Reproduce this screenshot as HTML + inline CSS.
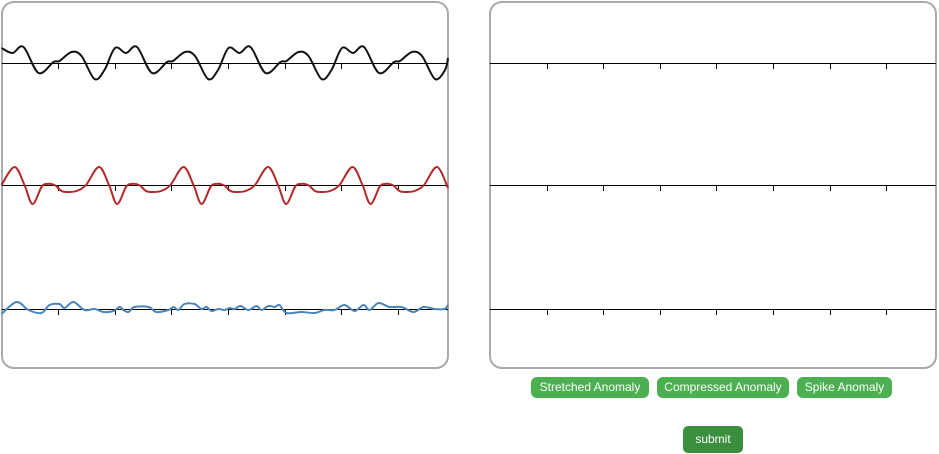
<!DOCTYPE html>
<html><head><meta charset="utf-8"><style>
body{margin:0;width:939px;height:454px;background:#fff;font-family:"Liberation Sans",sans-serif;position:relative;overflow:hidden}
.panel{position:absolute;top:1px;width:444px;height:364px;border:2px solid #aaa;border-radius:13px;background:#fff}
.btn{position:absolute;top:377px;height:21px;background:#4caf50;color:#fff;border-radius:6px;font-size:12px;line-height:21px;text-align:center}
#submit{position:absolute;left:683px;top:426px;width:60px;height:27px;background:#3a8f3e;color:#fff;border-radius:5px;font-size:12px;line-height:27px;text-align:center}
svg{position:absolute;left:0;top:0}
</style></head><body>
<div class="panel" style="left:1px"></div>
<div class="panel" style="left:489px"></div>
<svg id="chart" width="939" height="454"></svg>
<div class="btn" style="left:531px;width:118px">Stretched Anomaly</div>
<div class="btn" style="left:657px;width:132px">Compressed Anomaly</div>
<div class="btn" style="left:797px;width:95px">Spike Anomaly</div>
<div id="submit">submit</div>
<script>
const blackT=[0,11,22,37,52,58,70,80,93,103,113.5,124.5,135.5,150.5,165.5,171.5,183.5,193.5,206.5,216.5,227,238,249,264,279,285,297,307,320,330,340.5,351.5,362.5,377.5,392.5,398.5,410.5,420.5,433.5,443.5,446.5];
const blackV=[1.5,1.0,1.6,-1.0,0.1,0.2,1.1,0.7,-1.6,-0.7,1.5,1.0,1.6,-1.0,0.1,0.2,1.1,0.7,-1.6,-0.7,1.5,1.0,1.6,-1.0,0.1,0.2,1.1,0.7,-1.6,-0.7,1.5,1.0,1.6,-1.0,0.1,0.2,1.1,0.7,-1.6,-0.7,0.5];
const redT=[0,13,23,31,40,45,53,60,66,75,84.5,97.5,107.5,115.5,124.5,129.5,137.5,144.5,150.5,159.5,169,182,192,200,209,214,222,229,235,244,253.5,266.5,276.5,284.5,293.5,298.5,306.5,313.5,319.5,328.5,338,351,361,369,378,383,391,398,404,413,422.5,435.5,446.5];
const redV=[0,1.8,0,-1.9,-0.2,0.1,0,-0.6,-0.7,-0.6,0,1.8,0,-1.9,-0.2,0.1,0,-0.6,-0.7,-0.6,0,1.8,0,-1.9,-0.2,0.1,0,-0.6,-0.7,-0.6,0,1.8,0,-1.9,-0.2,0.1,0,-0.6,-0.7,-0.6,0,1.8,0,-1.9,-0.2,0.1,0,-0.6,-0.7,-0.6,0,1.8,-0.3];
const blueT=[0,15,27,40,48,58,63,72,83,93,102,112,118,122,127,133,147,155,167,172,177,183,193,200,205,210,217,223,228,233,239,247,255,260,267,273,278,285,300,313,323,333,343,353,362,368,377,388,400,412,422,433,443,446.5];
const blueV=[-0.5,0.7,-0.1,-0.4,0.4,0.5,0.1,0.7,-0.1,0,-0.3,-0.2,0.2,-0.1,-0.3,0.2,0.2,-0.3,-0.1,0.2,-0.1,0.5,0.5,0,0.2,-0.2,0,-0.1,0.1,0,0.3,-0.1,0.3,-0.1,0.3,0.2,0.4,-0.4,-0.3,-0.4,-0.1,-0.1,0.4,-0.2,0.4,-0.1,0.6,0.2,0.2,-0.3,0.2,0,0,0.4];
const tickT=[56.6,113.2,169.8,226.4,283,339.6,396.2];
const svg=document.getElementById('chart');const NS='http://www.w3.org/2000/svg';
const baselines=[63,185,309];
function xs(t,x0){return x0+t;} function ys(v,b){return b-v*10;}
function mk(tag,attrs){const e=document.createElementNS(NS,tag);for(const k in attrs)e.setAttribute(k,attrs[k]);svg.appendChild(e);return e;}
[[2,448,1.5],[490,936,490]].forEach((p,pi)=>{baselines.forEach((b,bi)=>{
 const a=mk('line',{x1:p[0],x2:p[1],y1:b+0.5,y2:b+0.5,stroke:'#000','stroke-width':1});
 
 
 tickT.forEach(t=>{const x=Math.round(xs(t,p[2]))+0.5;const tk=mk('line',{x1:x,x2:x,y1:b,y2:b+6,stroke:'#000','stroke-width':1});
 
 });
});});
function path(T,V,b,col,name){const n=Math.min(T.length,V.length);const P=[];for(let i=0;i<n;i++)P.push([xs(T[i],1.5),ys(V[i],b)]);let d='M'+P[0][0]+','+P[0][1];
 for(let i=0;i<P.length-1;i++){const p0=P[i-1]||P[i],p1=P[i],p2=P[i+1],p3=P[i+2]||p2;
 const c1=[p1[0]+(p2[0]-p0[0])/6,p1[1]+(p2[1]-p0[1])/6],c2=[p2[0]-(p3[0]-p1[0])/6,p2[1]-(p3[1]-p1[1])/6];
 d+=' C'+c1+' '+c2+' '+p2;}
 const e=mk('path',{d:d,fill:'none',stroke:col,'stroke-width':2});
 
 }
path(blackT,blackV,63,'#111','black-series');
path(redT,redV,185,'#b22a2a','red-series');
path(blueT,blueV,309,'#4a84bc','blue-series');
</script>
</body></html>
